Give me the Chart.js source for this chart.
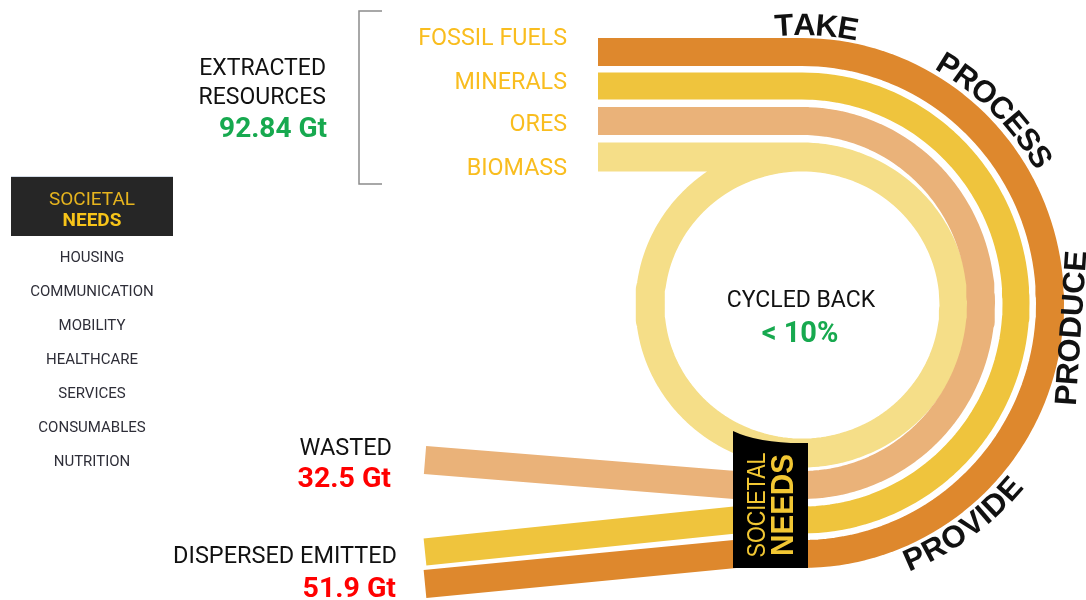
<!DOCTYPE html>
<html>
<head>
<meta charset="utf-8">
<script src="https://cdn.jsdelivr.net/npm/chart.js@4.4.1/dist/chart.umd.min.js"></script>
<style>
  html, body { margin: 0; padding: 0; background: #fff; }
  canvas { display: block; }
</style>
</head>
<body>
<canvas id="chart" width="1086" height="600"></canvas>
<script>
// --- values ---
const resources = ['FOSSIL FUELS', 'MINERALS', 'ORES', 'BIOMASS'];
const stages = ['TAKE', 'PROCESS', 'PRODUCE', 'PROVIDE'];
const needs = ['HOUSING', 'COMMUNICATION', 'MOBILITY', 'HEALTHCARE', 'SERVICES', 'CONSUMABLES', 'NUTRITION'];
const extracted = 92.84;   // Gt
const wasted = 32.5;       // Gt
const emitted = 51.9;      // Gt
const cycledBack = 10;     // %

// --- styles / layout (scales map 1 unit = 1 px) ---
const W = 1086, H = 600;
const bandColors = ['#DE882D', '#EFC43D', '#EAB279', '#F5DE88'];
const bandWidths = [28, 27, 28, 29];
const hub = { x: 802, y: 303 };
const hubRadius = [251, 217, 182];
const hubSquash = 3;   // arcs are a touch narrower than tall
const loop = { x: 802, y: 305, rx: 152, ry: 148 };
const headX = 598;
const tails = [
  [{ x: 425, y: 584 }, { x: 735, y: 554 }],
  [{ x: 425, y: 552 }, { x: 735, y: 520 }],
  [{ x: 425, y: 460 }, { x: 735, y: 485 }]
];

function arcPoints(c, rx, ry, from, to) {
  const pts = [];
  const step = from < to ? 2 : -2;
  for (let a = from; step > 0 ? a <= to : a >= to; a += step) {
    const t = a * Math.PI / 180;
    pts.push({ x: c.x + rx * Math.cos(t), y: c.y + ry * Math.sin(t) });
  }
  return pts;
}

function bandPath(i) {
  if (i < 3) {
    const r = hubRadius[i];
    return [...tails[i], ...arcPoints(hub, r - hubSquash, r, 90, -90), { x: headX, y: hub.y - r }];
  }
  // biomass runs into the cycled-back loop
  return [{ x: headX, y: loop.y - loop.ry }, ...arcPoints(loop, loop.rx, loop.ry, -90, 270)];
}

const datasets = resources.map((name, i) => ({
  label: name,
  data: bandPath(i),
  showLine: true,
  borderColor: bandColors[i],
  backgroundColor: bandColors[i],
  borderWidth: bandWidths[i],
  borderCapStyle: 'butt',
  borderJoinStyle: 'round',
  pointRadius: 0,
  fill: false
}));

const ROBOTO = 'Roboto, "Liberation Sans", sans-serif';
const ARIAL = '"Liberation Sans", Arial, sans-serif';

// draw text so that y is the middle of the capitals
function put(ctx, str, x, y, size, weight, color, align, family) {
  ctx.font = `${weight} ${size}px ${family || ROBOTO}`;
  ctx.fillStyle = color;
  ctx.textAlign = align || 'center';
  ctx.textBaseline = 'alphabetic';
  ctx.fillText(str, x, y + size * 0.355);
}

// letters along a circle; outward = tops away from the centre, reading clockwise
function arcText(ctx, str, cx, cy, r, midDeg, outward, size) {
  ctx.font = `bold ${size}px ${ARIAL}`;
  ctx.fillStyle = '#111';
  ctx.textAlign = 'center';
  ctx.textBaseline = 'alphabetic';
  const chars = [...str];
  const widths = chars.map(ch => ctx.measureText(ch).width);
  const total = widths.reduce((a, b) => a + b, 0);
  const dir = outward ? 1 : -1;
  let a = midDeg * Math.PI / 180 - dir * total / r / 2;
  chars.forEach((ch, i) => {
    const ac = a + dir * widths[i] / r / 2;
    ctx.save();
    ctx.translate(cx + r * Math.cos(ac), cy + r * Math.sin(ac));
    ctx.rotate(ac + (outward ? Math.PI / 2 : -Math.PI / 2));
    ctx.fillText(ch, 0, size * 0.358);
    ctx.restore();
    a += dir * widths[i] / r;
  });
}

const overlay = {
  id: 'overlay',
  afterDatasetsDraw(chart) {
    const ctx = chart.ctx;
    const X = v => chart.scales.x.getPixelForValue(v);
    const Y = v => chart.scales.y.getPixelForValue(v);
    ctx.save();

    // bracket round the resources
    ctx.strokeStyle = '#8c8c8c';
    ctx.lineWidth = 1.5;
    ctx.beginPath();
    ctx.moveTo(X(382), Y(11));
    ctx.lineTo(X(359), Y(11));
    ctx.lineTo(X(359), Y(184));
    ctx.lineTo(X(382), Y(184));
    ctx.stroke();

    // resource labels
    const resY = [37, 81, 123, 167];
    resources.forEach((r, i) => put(ctx, r, X(567), Y(resY[i]), 23.3, 'normal', '#F9BD1F', 'right'));

    put(ctx, 'EXTRACTED', X(326), Y(67), 23, 'normal', '#111', 'right');
    put(ctx, 'RESOURCES', X(326), Y(96), 23, 'normal', '#111', 'right');
    put(ctx, `${extracted} Gt`, X(327), Y(127), 28, 'bold', '#17A94F', 'right');

    // societal needs panel
    ctx.fillStyle = '#262626';
    ctx.fillRect(X(11), Y(177), X(173) - X(11), Y(236) - Y(177));
    ctx.fillStyle = '#d3dbe6';
    ctx.fillRect(X(11), Y(176), X(173) - X(11), 1);
    put(ctx, 'SOCIETAL', X(92), Y(198), 19, 'normal', '#E6B41E');
    put(ctx, 'NEEDS', X(92), Y(219), 19, 'bold', '#F7C419');
    const needY = [256.5, 291, 324.5, 359, 393, 427, 461];
    needs.forEach((n, i) => put(ctx, n, X(92), Y(needY[i]), 15, 'normal', '#2e2e38'));

    // centre of the loop
    put(ctx, 'CYCLED BACK', X(801), Y(299), 23, 'normal', '#111');
    put(ctx, `< ${cycledBack}%`, X(800), Y(332), 29, 'bold', '#17A94F');

    // outflows
    put(ctx, 'WASTED', X(392), Y(447), 23.5, 'normal', '#111', 'right');
    put(ctx, `${wasted} Gt`, X(391), Y(477), 28.5, 'bold', '#FF0000', 'right');
    put(ctx, 'DISPERSED EMITTED', X(397), Y(555), 23.5, 'normal', '#111', 'right');
    put(ctx, `${emitted} Gt`, X(396), Y(587), 28.5, 'bold', '#FF0000', 'right');

    // black societal-needs gate on the bands
    ctx.fillStyle = '#000';
    ctx.beginPath();
    ctx.moveTo(X(733), Y(568));
    ctx.lineTo(X(733), Y(431));
    ctx.quadraticCurveTo(X(760), Y(444), X(808), Y(443));
    ctx.lineTo(X(808), Y(568));
    ctx.closePath();
    ctx.fill();
    [['SOCIETAL', 756, 25, 'normal', 105], ['NEEDS', 781.5, 32, 'bold', 102]].forEach(([s, cx, size, weight, len]) => {
      ctx.save();
      ctx.translate(X(cx), Y(505));
      ctx.rotate(-Math.PI / 2);
      ctx.font = `${weight} ${size}px ${ARIAL}`;
      const k = len / ctx.measureText(s).width;
      ctx.scale(k, 1);
      ctx.fillStyle = '#F2C733';
      ctx.textAlign = 'center';
      ctx.textBaseline = 'alphabetic';
      ctx.fillText(s, 0, size * 0.358);
      ctx.restore();
    });

    // stage names round the big arc
    arcText(ctx, stages[0], X(hub.x), Y(hub.y), 279, -87, true, 31);
    arcText(ctx, stages[1], X(hub.x), Y(hub.y), 280, -45, true, 31);
    ctx.save();
    ctx.translate(X(1070), Y(328));
    ctx.rotate(-86 * Math.PI / 180);
    ctx.font = `bold 31px ${ARIAL}`;
    ctx.fillStyle = '#111';
    ctx.textAlign = 'center';
    ctx.textBaseline = 'alphabetic';
    ctx.fillText(stages[2], 0, 31 * 0.358);
    ctx.restore();
    arcText(ctx, stages[3], X(hub.x), Y(hub.y), 278, 54, false, 31);

    ctx.restore();
  }
};

new Chart(document.getElementById('chart').getContext('2d'), {
  type: 'scatter',
  data: { datasets },
  options: {
    responsive: false,
    animation: false,
    events: [],
    devicePixelRatio: 1,
    layout: { padding: 0 },
    scales: {
      x: { type: 'linear', min: 0, max: W, display: false },
      y: { type: 'linear', min: 0, max: H, reverse: true, display: false }
    },
    plugins: { legend: { display: false }, tooltip: { enabled: false } },
    elements: { line: { tension: 0 } }
  },
  plugins: [overlay]
});
</script>
</body>
</html>
